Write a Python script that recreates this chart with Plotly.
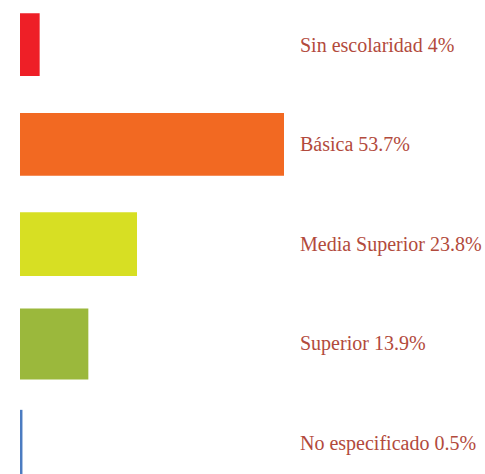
import plotly.graph_objects as go

categories = ["Sin escolaridad", "Básica", "Media Superior", "Superior", "No especificado"]
shares = [4, 53.7, 23.8, 13.9, 0.5]
label_values = ["4%", "53.7%", "23.8%", "13.9%", "0.5%"]

colors = ["#ee1f27", "#f26922", "#d7df23", "#9bb83c", "#4c7cc1"]
bar_widths = [0.63, 0.63, 0.64, 0.71, 0.68]
text_color = "#b24a3c"

idx = list(range(len(categories)))

fig = go.Figure()
fig.add_trace(go.Bar(
    x=shares,
    y=idx,
    orientation="h",
    marker=dict(color=colors, line=dict(width=0)),
    width=bar_widths,
    hoverinfo="skip",
))

for i, (c, v) in enumerate(zip(categories, label_values)):
    fig.add_annotation(
        x=(298 - 20) / 465, xref="paper", xanchor="left",
        y=i, yref="y", yanchor="middle",
        text=f"{c} {v}", showarrow=False,
        font=dict(family="Liberation Serif", size=20, color=text_color),
    )

fig.update_layout(
    width=485, height=474,
    margin=dict(l=20, r=0, t=0, b=0),
    paper_bgcolor="white", plot_bgcolor="white",
    showlegend=False,
    xaxis=dict(range=[0, 53.7 * 465 / 264], visible=False, fixedrange=True),
    yaxis=dict(range=[4.303, -0.447], visible=False, fixedrange=True),
)

fig.write_html("out.html")
